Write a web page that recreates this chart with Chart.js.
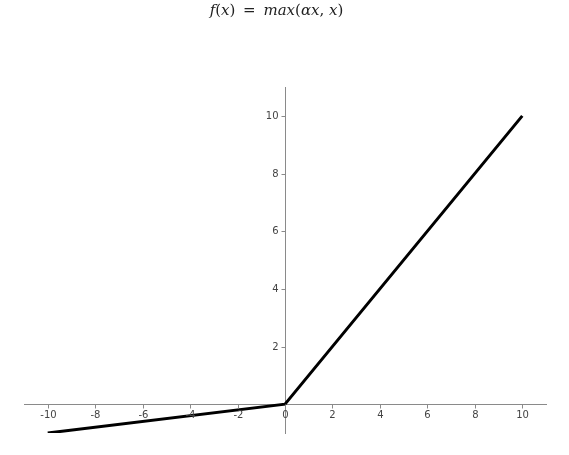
<!DOCTYPE html>
<html>
<head>
<meta charset="utf-8">
<script src="https://cdn.jsdelivr.net/npm/chart.js@4"></script>
<style>
  html, body { margin: 0; padding: 0; background: #fff; }
  #wrap { width: 569px; height: 455px; }
</style>
</head>
<body>
<div id="wrap"><canvas id="reluChart"></canvas></div>
<script>
// leaky relu, alpha = 0.1
const xs = [-10, 0, 10];
const ys = [-1, 0, 10];
const xTicks = [-10, -8, -6, -4, -2, 0, 2, 4, 6, 8, 10];
const yTicks = [2, 4, 6, 8, 10];

const axisColor = '#8a8a8a';
const labelColor = '#444';
const tickFont = '10px "DejaVu Sans"';

// mathtext-like title: italic for symbols, upright for punctuation
const titleParts = [
  ['f', true], ['(', false], ['x', true], [')', false], [' \u2009=\u2009 ', false],
  ['max', true], ['(', false], ['αx', true], [', ', false], ['x', true], [')', false],
];

const axesPlugin = {
  id: 'centerAxes',
  afterDraw(chart) {
    const { ctx, scales: { x, y } } = chart;
    const x0 = Math.round(x.getPixelForValue(0)) + 0.5;
    const y0 = Math.round(y.getPixelForValue(0)) + 0.5;
    ctx.save();
    ctx.strokeStyle = axisColor;
    ctx.lineWidth = 1;
    ctx.fillStyle = labelColor;
    ctx.font = tickFont;

    ctx.textAlign = 'center';
    ctx.textBaseline = 'top';
    xTicks.forEach(v => {
      const px = Math.round(x.getPixelForValue(v)) + 0.5;
      ctx.beginPath();
      ctx.moveTo(px, y0);
      ctx.lineTo(px, y0 + 4);
      ctx.stroke();
      ctx.fillText(String(v), px, y0 + 6);
    });

    ctx.textAlign = 'right';
    ctx.textBaseline = 'middle';
    yTicks.forEach(v => {
      const py = Math.round(y.getPixelForValue(v)) + 0.5;
      ctx.beginPath();
      ctx.moveTo(x0 - 4, py);
      ctx.lineTo(x0, py);
      ctx.stroke();
      ctx.fillText(String(v), x0 - 7, py);
    });

    // title, sits a little left of centre like the original
    const fontFor = it => (it ? 'italic ' : '') + '15px "DejaVu Serif"';
    let total = 0;
    titleParts.forEach(([t, it]) => { ctx.font = fontFor(it); total += ctx.measureText(t).width; });
    let tx = chart.width / 2 - 8 - total / 2;
    ctx.fillStyle = '#222';
    ctx.textAlign = 'left';
    ctx.textBaseline = 'middle';
    titleParts.forEach(([t, it]) => {
      ctx.font = fontFor(it);
      ctx.fillText(t, tx, 11);
      tx += ctx.measureText(t).width;
    });
    ctx.restore();
  },
};

const ctx = document.getElementById('reluChart').getContext('2d');
const chart = new Chart(ctx, {
  type: 'line',
  data: {
    datasets: [
      {
        data: xs.map((x, i) => ({ x, y: ys[i] })),
        borderColor: '#000',
        borderWidth: 3,
        pointRadius: 0,
        tension: 0,
        fill: false,
      },
    ],
  },
  options: {
    responsive: true,
    maintainAspectRatio: false,
    animation: false,
    layout: { padding: { top: 87, left: 24, right: 23, bottom: 22 } },
    scales: {
      x: {
        type: 'linear',
        min: -11,
        max: 11,
        position: { y: 0 },
        ticks: { display: false },
        grid: { display: false },
        border: { color: axisColor, width: 1 },
      },
      y: {
        type: 'linear',
        min: -1,
        max: 11,
        position: { x: 0 },
        ticks: { display: false },
        grid: { display: false },
        border: { color: axisColor, width: 1 },
      },
    },
    plugins: {
      legend: false,
      tooltip: { enabled: false },
      title: { display: false },
    },
  },
  plugins: [axesPlugin],
});
</script>
</body>
</html>
